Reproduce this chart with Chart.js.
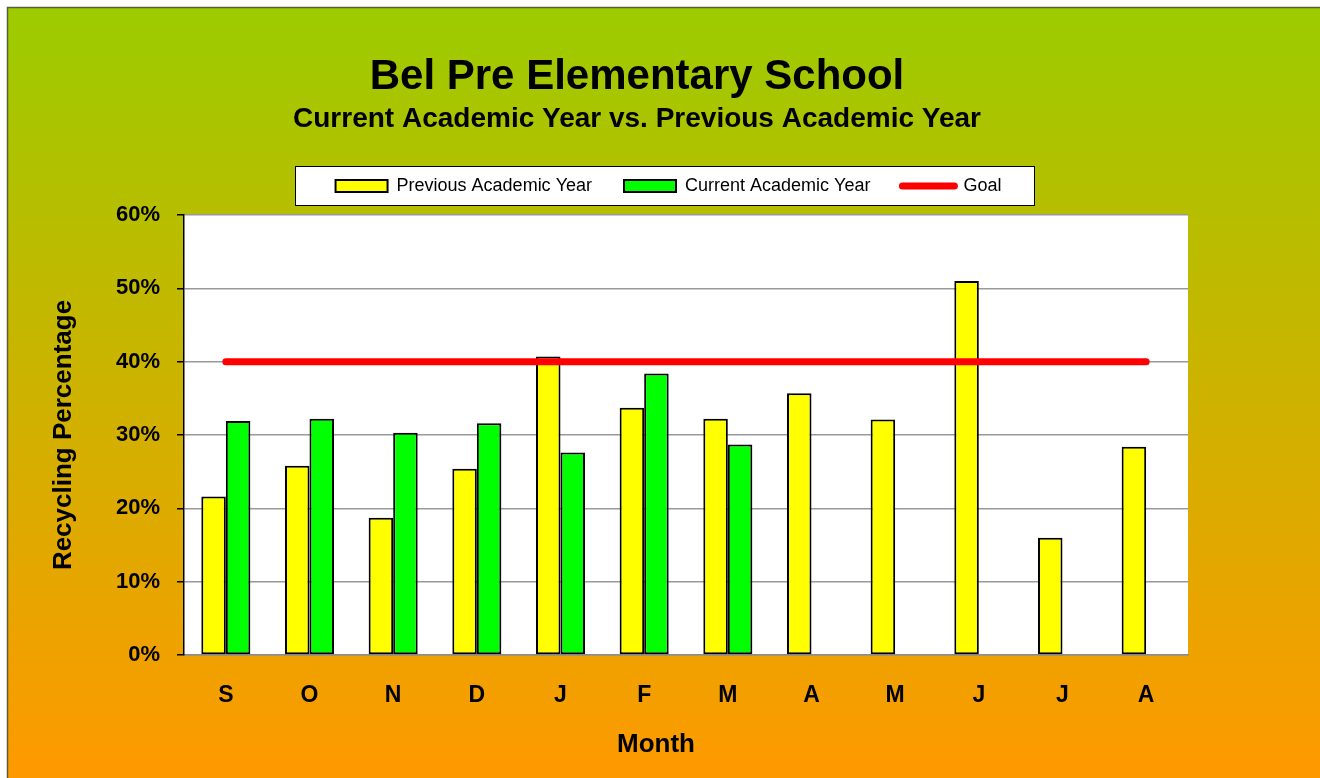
<!DOCTYPE html>
<html>
<head>
<meta charset="utf-8">
<script src="https://cdn.jsdelivr.net/npm/chart.js@4"></script>
<style>
  html, body { margin: 0; padding: 0; background: #ffffff; }
  canvas { display: block; }
</style>
</head>
<body>
<canvas id="chart" width="1320" height="778"></canvas>
<script>
// ---- data ----
const months = ['S', 'O', 'N', 'D', 'J', 'F', 'M', 'A', 'M', 'J', 'J', 'A'];
const previousYear = [21.6, 25.8, 18.7, 25.4, 40.7, 33.7, 32.2, 35.7, 32.1, 51.0, 16.0, 28.4];
const currentYear = [31.9, 32.2, 30.3, 31.6, 27.6, 38.4, 28.7, null, null, null, null, null];
const goal = [40, 40, 40, 40, 40, 40, 40, 40, 40, 40, 40, 40];
const yMin = 0, yMax = 60, yStep = 10;
const titleText = 'Bel Pre Elementary School';
const subtitleText = 'Current Academic Year vs. Previous Academic Year';
const yTitle = 'Recycling Percentage';
const xTitle = 'Month';
const seriesNames = ['Previous Academic Year', 'Current Academic Year', 'Goal'];

const FONT = '"Liberation Sans", Arial, Helvetica, sans-serif';

const decor = {
  id: 'decor',
  afterLayout(chart) {
    const shiftX = (box, cx) => {
      const d = cx - (box.left + box.right) / 2;
      box.left += d; box.right += d;
    };
    chart.boxes.forEach(b => {
      if (b === chart.legend) {
        shiftX(b, 668.5);
        b.top -= 10; b.bottom -= 10;
      } else if (b.options && (b.options.text === titleText || b.options.text === subtitleText)) {
        shiftX(b, 637);
      }
    });
    const xs = chart.scales.x;
    if (xs && !xs._titlePatched) {
      const orig = xs.drawTitle;
      xs.drawTitle = function () {
        const l = this.left, r = this.right;
        const d = 656 - (l + r) / 2;
        this.left += d; this.right += d;
        orig.call(this);
        this.left = l; this.right = r;
      };
      xs._titlePatched = true;
    }
  },
  beforeDraw(chart) {
    const { ctx, width, height, chartArea: a } = chart;
    ctx.save();
    ctx.fillStyle = '#ffffff';
    ctx.fillRect(0, 0, width, height);
    const g = ctx.createLinearGradient(0, 7, 0, height);
    g.addColorStop(0, '#9ccc00');
    g.addColorStop(1, '#ff9900');
    ctx.fillStyle = g;
    ctx.fillRect(7, 7, width - 7, height - 7);
    ctx.strokeStyle = '#5b5b40';
    ctx.lineWidth = 1.5;
    ctx.beginPath();
    ctx.moveTo(7.5, height);
    ctx.lineTo(7.5, 7.5);
    ctx.lineTo(width, 7.5);
    ctx.stroke();
    // plot area
    ctx.fillStyle = '#ffffff';
    ctx.fillRect(a.left, a.top, a.right - a.left, a.bottom - a.top);
    // legend frame
    const lg = chart.legend;
    if (lg && lg.lineWidths) {
      const pad = lg.options.labels.padding;
      const content = lg.lineWidths[0] - pad;
      const cx = (lg.left + lg.right) / 2;
      const fs = lg.options.labels.font.size || 18;
      const cy = lg.top + pad + fs / 2;
      const x0 = Math.round(cx - content / 2 - 41) + 0.5;
      const x1 = Math.round(cx + content / 2 + 33) + 0.5;
      const y0 = Math.round(cy - 20) + 0.5;
      const y1 = Math.round(cy + 19) + 0.5;
      ctx.fillStyle = '#ffffff';
      ctx.fillRect(x0, y0, x1 - x0, y1 - y0);
      ctx.strokeStyle = '#000000';
      ctx.lineWidth = 1;
      ctx.strokeRect(x0, y0, x1 - x0, y1 - y0);
    }
    ctx.restore();
  }
};

new Chart(document.getElementById('chart'), {
  data: {
    labels: months,
    datasets: [
      {
        type: 'bar',
        label: seriesNames[0],
        data: previousYear,
        backgroundColor: '#ffff00',
        borderColor: '#000000',
        borderWidth: 2,
        borderSkipped: false,
        categoryPercentage: 0.586,
        barPercentage: 1.0,
        order: 1
      },
      {
        type: 'bar',
        label: seriesNames[1],
        data: currentYear,
        backgroundColor: '#00ff00',
        borderColor: '#000000',
        borderWidth: 2,
        borderSkipped: false,
        categoryPercentage: 0.586,
        barPercentage: 1.0,
        order: 1
      },
      {
        type: 'line',
        label: seriesNames[2],
        data: goal,
        borderColor: '#ff0000',
        backgroundColor: '#ff0000',
        borderWidth: 7,
        borderCapStyle: 'round',
        pointRadius: 0,
        pointHoverRadius: 0,
        fill: false,
        order: -1
      }
    ]
  },
  options: {
    responsive: false,
    animation: false,
    devicePixelRatio: 1,
    layout: { padding: { left: 8, right: 132, top: 0, bottom: 0 } },
    plugins: {
      title: {
        display: true,
        text: titleText,
        color: '#000000',
        font: { family: FONT, size: 42, weight: 'bold' },
        padding: { top: 52, bottom: 0 }
      },
      subtitle: {
        display: true,
        text: subtitleText,
        color: '#000000',
        font: { family: FONT, size: 28, weight: 'bold' },
        padding: { top: 0, bottom: 19 }
      },
      legend: {
        display: true,
        position: 'top',
        labels: {
          color: '#000000',
          font: { family: FONT, size: 18 },
          boxWidth: 52,
          boxHeight: 12,
          usePointStyle: true,
          pointStyleWidth: 52,
          padding: 32,
          sort: (a, b) => a.datasetIndex - b.datasetIndex,
          generateLabels(chart) {
            const items = Chart.defaults.plugins.legend.labels.generateLabels(chart);
            items.forEach(it => {
              const ds = chart.data.datasets[it.datasetIndex];
              if (ds.type === 'line') {
                it.pointStyle = 'line';
                it.strokeStyle = '#ff0000';
                it.lineWidth = 7;
                it.lineCap = 'round';
              } else {
                it.pointStyle = 'rect';
                it.lineWidth = 2;
                it.strokeStyle = '#000000';
              }
            });
            return items;
          }
        }
      },
      tooltip: { enabled: false }
    },
    scales: {
      x: {
        type: 'category',
        grid: { display: false, drawTicks: false },
        border: { display: true, color: '#8c8c8c', width: 1.5 },
        ticks: {
          color: '#000000',
          font: { family: FONT, size: 23, weight: 'bold' },
          padding: 27,
          maxRotation: 0,
          autoSkip: false
        },
        title: {
          display: true,
          text: xTitle,
          color: '#000000',
          font: { family: FONT, size: 26, weight: 'bold' },
          padding: { top: 0, bottom: 18 }
        },
        afterFit(scale) { scale.height = 123; }
      },
      y: {
        type: 'linear',
        min: yMin,
        max: yMax,
        ticks: {
          stepSize: yStep,
          color: '#000000',
          font: { family: FONT, size: 22, weight: 'bold' },
          padding: 17,
          callback: v => v + '%'
        },
        grid: {
          color: '#999999',
          lineWidth: 1.5,
          tickColor: '#000000',
          tickLength: 7,
          drawTicks: true
        },
        border: { display: true, color: '#000000', width: 1.5 },
        title: {
          display: true,
          text: yTitle,
          color: '#000000',
          font: { family: FONT, size: 26, weight: 'bold' },
          padding: { top: 40, bottom: 0 }
        },
        afterFit(scale) { scale.width = 176; }
      }
    }
  },
  plugins: [decor]
});
</script>
</body>
</html>
